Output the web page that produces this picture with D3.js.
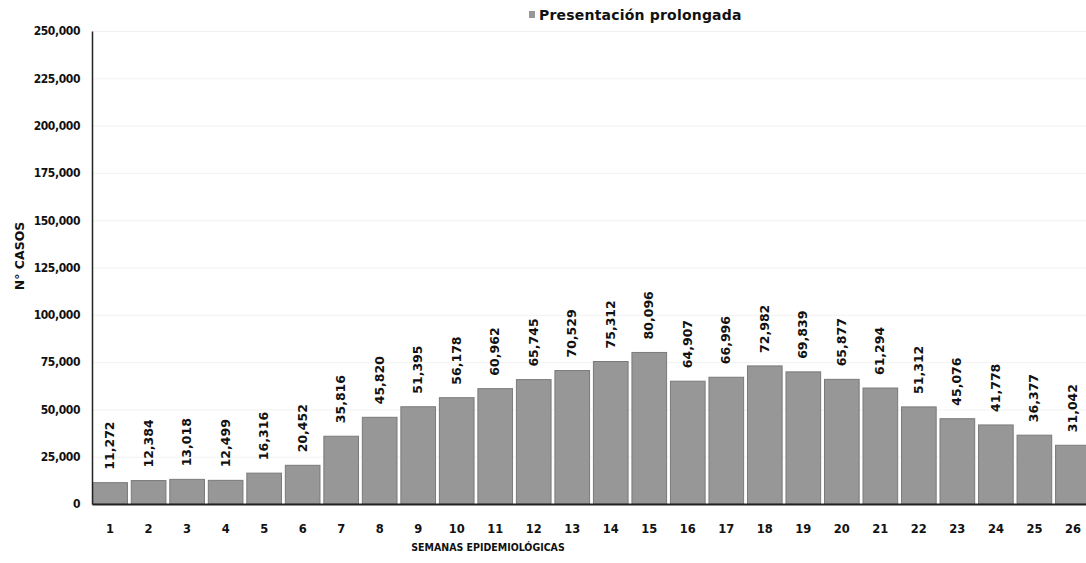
<!DOCTYPE html>
<html>
<head>
<meta charset="utf-8">
<script src="https://cdn.jsdelivr.net/npm/d3@7"></script>
<style>
  body { margin: 0; background: #fff; }
  text { font-family: "DejaVu Sans", sans-serif; font-weight: bold; fill: #111; }
</style>
</head>
<body>
<div id="chart"></div>
<script>
// data
var weeks = ["1","2","3","4","5","6","7","8","9","10","11","12","13","14","15","16","17","18","19","20","21","22","23","24","25","26"];
var cases = [11272, 12384, 13018, 12499, 16316, 20452, 35816, 45820, 51395, 56178, 60962, 65745, 70529, 75312, 80096, 64907, 66996, 72982, 69839, 65877, 61294, 51312, 45076, 41778, 36377, 31042];
var yTicks = [0, 25000, 50000, 75000, 100000, 125000, 150000, 175000, 200000, 225000, 250000];
var seriesName = "Presentación prolongada";

var W = 1086, H = 563;
var margin = {top: 31, right: -5, bottom: 59, left: 92},
    width = W - margin.left - margin.right,
    height = H - margin.top - margin.bottom;

var svg = d3.select("#chart")
  .append("svg")
    .attr("width", W)
    .attr("height", H);

var g = svg.append("g")
    .attr("transform", "translate(" + margin.left + "," + margin.top + ")");

var x = d3.scaleBand()
    .domain(weeks)
    .range([0, width])
    .paddingInner(0.1)
    .paddingOuter(0.02);

var y = d3.scaleLinear()
    .domain([0, 250000])
    .range([height, 0]);

var fmt = d3.format(",");

// faint gridlines
g.append("g")
    .call(d3.axisLeft(y).tickValues(yTicks.slice(1)).tickSize(-width).tickFormat(""))
    .call(function(s) { s.select(".domain").remove(); })
    .selectAll("line")
      .attr("stroke", "#f2f2f2");

// bars
g.selectAll("rect.bar")
    .data(cases)
    .enter()
    .append("rect")
      .attr("class", "bar")
      .attr("x", function(d, i) { return x(weeks[i]); })
      .attr("y", function(d) { return y(d); })
      .attr("width", x.bandwidth())
      .attr("height", function(d) { return height - y(d); })
      .style("fill", "#979797")
      .style("stroke", "#7a7a7a")
      .style("stroke-width", 1);

// value labels, rotated
g.selectAll("text.val")
    .data(cases)
    .enter()
    .append("text")
      .attr("class", "val")
      .attr("transform", function(d, i) {
        return "translate(" + (x(weeks[i]) + x.bandwidth() / 2 + 4) + "," + (y(d) - 13) + ") rotate(-90)";
      })
      .style("font-size", "12.5px")
      .text(function(d) { return fmt(d); });

// Y axis
var yAxis = g.append("g")
    .call(d3.axisLeft(y).tickValues(yTicks).tickSize(0).tickPadding(12).tickFormat(fmt));
yAxis.select(".domain").attr("stroke", "#222").attr("stroke-width", 1.5);
yAxis.selectAll(".tick text")
    .style("font-size", "12px")
    .style("font-family", "DejaVu Sans Condensed, DejaVu Sans, sans-serif")
    .style("letter-spacing", "-0.4px");

// X axis
var xAxis = g.append("g")
    .attr("transform", "translate(0," + height + ")")
    .call(d3.axisBottom(x).tickSize(0).tickPadding(21));
xAxis.select(".domain").attr("stroke", "#222").attr("stroke-width", 2);
xAxis.selectAll(".tick text")
    .style("font-size", "11.5px");

// axis titles
svg.append("text")
    .attr("x", 488)
    .attr("y", 551)
    .attr("text-anchor", "middle")
    .style("font-size", "10.5px")
    .style("font-family", "DejaVu Sans Condensed, DejaVu Sans, sans-serif")
    .text("SEMANAS EPIDEMIOLÓGICAS");

svg.append("text")
    .attr("transform", "translate(24,256) rotate(-90)")
    .attr("text-anchor", "middle")
    .style("font-size", "12.5px")
    .text("N° CASOS");

// legend
var legend = svg.append("g").attr("transform", "translate(529,8)");
legend.append("rect")
    .attr("width", 6).attr("height", 7)
    .attr("y", 3)
    .style("fill", "#979797");
legend.append("text")
    .attr("x", 10)
    .attr("y", 12)
    .style("font-size", "14px")
    .style("letter-spacing", "0.2px")
    .text(seriesName);
</script>
</body>
</html>
